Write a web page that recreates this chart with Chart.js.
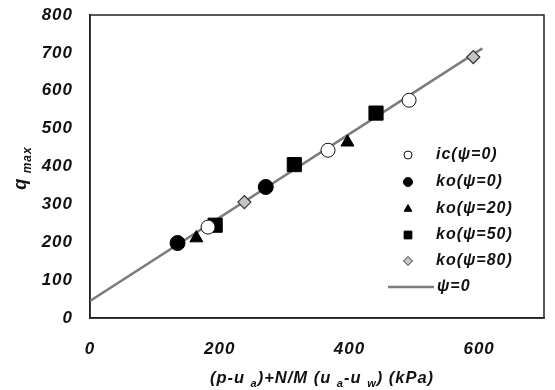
<!DOCTYPE html>
<html>
<head>
<meta charset="utf-8">
<script src="https://cdn.jsdelivr.net/npm/chart.js@4/dist/chart.umd.min.js"></script>
<style>
  html, body { margin: 0; padding: 0; background: #fff; }
  #wrap { width: 555px; height: 390px; }
</style>
</head>
<body>
<div id="wrap"><canvas id="chart" width="555" height="390"></canvas></div>
<script>
// data
const icX = [182, 367, 492];
const icY = [240, 443, 575];
const ko0X = [135, 271];
const ko0Y = [198, 346];
const ko20X = [164, 397];
const ko20Y = [211, 464];
const ko50X = [193, 315, 441];
const ko50Y = [245, 405, 541];
const ko80X = [238, 591];
const ko80Y = [306, 689];
const fitX = [0, 605];
const fitY = [45, 712];

const xTicks = [0, 200, 400, 600];
const legendLabels = ['ic(ψ=0)', 'ko(ψ=0)', 'ko(ψ=20)', 'ko(ψ=50)', 'ko(ψ=80)', 'ψ=0'];

const FONT = '"Liberation Sans", Arial, sans-serif';

function pts(xs, ys) {
    return xs.map((x, i) => ({ x: x, y: ys[i] }));
}

// text with subscripts, parts = [[text, isSub], ...]
function drawRich(ctx, parts, x, y, size) {
    const subSize = Math.round(size * 0.68);
    let total = 0;
    parts.forEach(p => {
        ctx.font = 'italic bold ' + (p[1] ? subSize : size) + 'px ' + FONT;
        total += ctx.measureText(p[0]).width;
    });
    let cx = x - total / 2;
    ctx.textAlign = 'left';
    ctx.textBaseline = 'alphabetic';
    parts.forEach(p => {
        ctx.font = 'italic bold ' + (p[1] ? subSize : size) + 'px ' + FONT;
        ctx.fillText(p[0], cx, p[1] ? y + size * 0.25 : y);
        cx += ctx.measureText(p[0]).width;
    });
}

const extras = {
    id: 'extras',
    beforeDraw(chart) {
        chart.ctx.letterSpacing = '1px';
    },
    beforeDatasetsDraw(chart) {
        const ctx = chart.ctx;
        const a = chart.chartArea;
        ctx.save();
        ctx.strokeStyle = '#222';
        ctx.lineWidth = 1.5;
        ctx.strokeRect(a.left, a.top, a.right - a.left, a.bottom - a.top);
        ctx.restore();
    },
    afterDraw(chart) {
        const ctx = chart.ctx;
        ctx.save();
        ctx.fillStyle = '#111';
        ctx.letterSpacing = '1px';

        // axis titles
        drawRich(ctx, [['(p-u ', false], ['a', true], [')+N/M (u ', false], ['a', true],
            ['-u ', false], ['w', true], [') (kPa)', false]], 322, 383, 16.5);
        ctx.save();
        ctx.translate(26, 168);
        ctx.rotate(-Math.PI / 2);
        drawRich(ctx, [['q', false], [' max', true]], 0, 0, 18);
        ctx.restore();

        // legend inside the plot
        const rowY = [155, 182, 209, 235, 261, 287];
        chart.data.datasets.forEach((ds, i) => {
            const y = rowY[i];
            if (ds.type === 'line') {
                ctx.strokeStyle = ds.borderColor;
                ctx.lineWidth = ds.borderWidth;
                ctx.beginPath();
                ctx.moveTo(388, y);
                ctx.lineTo(434, y);
                ctx.stroke();
            } else {
                ctx.fillStyle = ds.backgroundColor;
                ctx.strokeStyle = ds.borderColor;
                ctx.lineWidth = 1;
                Chart.helpers.drawPoint(ctx, {
                    pointStyle: ds.pointStyle,
                    radius: ds.legendRadius,
                    rotation: 0,
                    borderWidth: 1
                }, 408, y);
            }
            ctx.fillStyle = '#111';
            ctx.font = 'italic bold 16px ' + FONT;
            ctx.textAlign = 'left';
            ctx.textBaseline = 'middle';
            ctx.fillText(ds.label, ds.type === 'line' ? 437 : 436, y);
        });
        ctx.restore();
    }
};

new Chart(document.getElementById('chart'), {
    type: 'scatter',
    data: {
        datasets: [
            { label: legendLabels[0], data: pts(icX, icY), pointStyle: 'circle', pointRadius: 7,
              legendRadius: 4, backgroundColor: '#fff', borderColor: '#111', borderWidth: 1 },
            { label: legendLabels[1], data: pts(ko0X, ko0Y), pointStyle: 'circle', pointRadius: 7.5,
              legendRadius: 4.5, backgroundColor: '#000', borderColor: '#000', borderWidth: 1 },
            { label: legendLabels[2], data: pts(ko20X, ko20Y), pointStyle: 'triangle', pointRadius: 7.5,
              legendRadius: 4.5, backgroundColor: '#000', borderColor: '#000', borderWidth: 1 },
            { label: legendLabels[3], data: pts(ko50X, ko50Y), pointStyle: 'rect', pointRadius: 10,
              legendRadius: 5.5, backgroundColor: '#000', borderColor: '#000', borderWidth: 1 },
            { label: legendLabels[4], data: pts(ko80X, ko80Y), pointStyle: 'rectRot', pointRadius: 6.5,
              legendRadius: 4.5, backgroundColor: '#c4c4c4', borderColor: '#333', borderWidth: 1.2 },
            { type: 'line', label: legendLabels[5], data: pts(fitX, fitY), borderColor: '#7c7c7c',
              borderWidth: 2.5, pointRadius: 0, showLine: true, fill: false, order: 10 }
        ]
    },
    options: {
        responsive: false,
        animation: false,
        // chart.js keeps a few px on the right anyway, this gets the box out to ~x=550
        layout: { padding: { left: 0, right: -6, top: 15, bottom: 0 } },
        plugins: {
            legend: { display: false },
            tooltip: { enabled: false }
        },
        scales: {
            x: {
                type: 'linear',
                min: 0,
                max: 700,
                afterBuildTicks: s => { s.ticks = xTicks.map(v => ({ value: v })); },
                afterFit: s => { s.height = 72; s.paddingLeft = 0; s.paddingRight = 0; },
                grid: { display: false, drawTicks: false },
                border: { display: true, color: '#222', width: 1.5 },
                ticks: {
                    padding: 21,
                    color: '#111',
                    font: { family: FONT, size: 17, style: 'italic', weight: 'bold' }
                }
            },
            y: {
                type: 'linear',
                min: 0,
                max: 800,
                afterFit: s => { s.width = 90; s.paddingTop = 0; s.paddingBottom = 0; },
                grid: { display: false, drawTicks: false },
                border: { display: true, color: '#222', width: 1.5 },
                ticks: {
                    stepSize: 100,
                    padding: 17,
                    color: '#111',
                    font: { family: FONT, size: 17, style: 'italic', weight: 'bold' }
                }
            }
        }
    },
    plugins: [extras]
});
</script>
</body>
</html>
